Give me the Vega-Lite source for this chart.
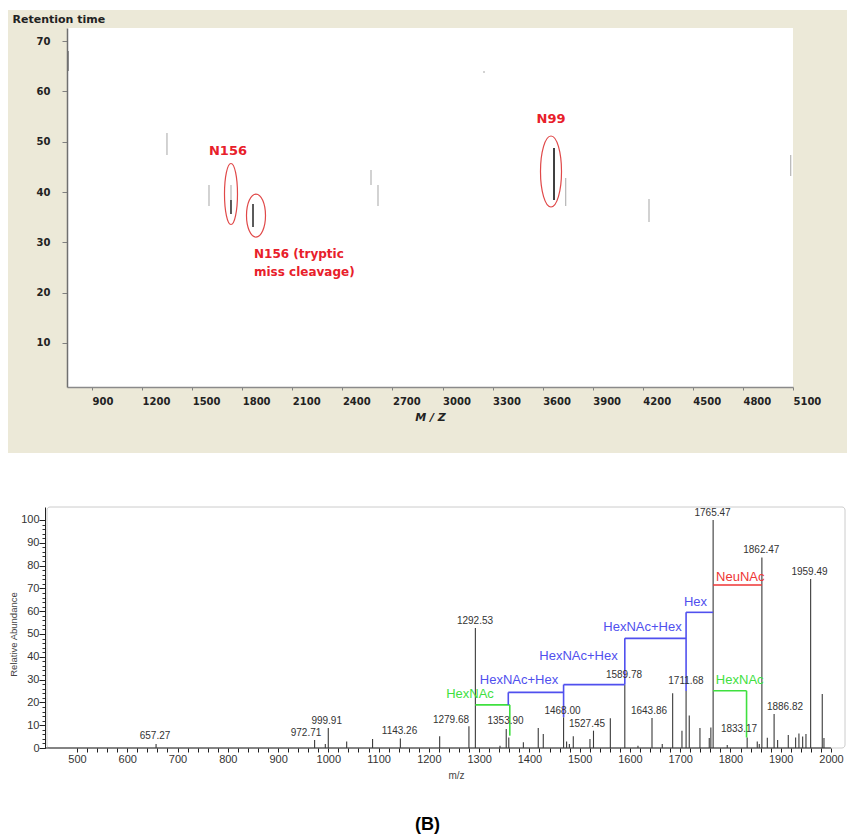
{
  "$schema": "https://vega.github.io/schema/vega-lite/v6.json",
  "padding": {"left": 8, "top": 9, "right": 0, "bottom": 0},
  "background": "white",
  "spacing": 52,
  "resolve": {"scale": {"color": "independent", "strokeWidth": "independent"}},
  "title": {"text": "(B)", "orient": "bottom", "anchor": "middle", "frame": "bounds", "fontSize": 18, "fontWeight": "bold", "font": "Liberation Sans", "color": "#000000", "offset": 36},
  "config": {"view": {"stroke": null}, "axis": {"zindex": 1, "grid": false}},
  "vconcat": [
    {
      "width": 726,
      "height": 359,
      "layer": [
        {
          "data": {"values": [{}]},
          "mark": {"type": "rect", "color": "#ECE9D8"},
          "encoding": {
            "x": {"datum": 396.5, "type": "quantitative", "scale": {"domain": [750, 5100], "nice": false, "zero": false}},
            "x2": {"datum": 5423.5},
            "y": {"datum": 76.18, "type": "quantitative", "scale": {"domain": [1.25, 72.6], "nice": false, "zero": false}},
            "y2": {"datum": -11.87}
          }
        },
        {
          "data": {"values": [{}]},
          "mark": {"type": "rect", "color": "#FFFFFF"},
          "encoding": {
            "x": {"datum": 750, "type": "quantitative", "scale": {"domain": [750, 5100], "nice": false, "zero": false}},
            "x2": {"datum": 5100},
            "y": {"datum": 1.25, "type": "quantitative", "scale": {"domain": [1.25, 72.6], "nice": false, "zero": false}},
            "y2": {"datum": 72.6}
          }
        },
        {
          "data": {"values": [
            {"mz": 757, "rt": 68.03, "rt2": 64.05, "level": "mid"},
            {"mz": 1349, "rt": 51.73, "rt2": 47.36, "level": "low"},
            {"mz": 1600.8, "rt": 41.4, "rt2": 37.22, "level": "low"},
            {"mz": 1732.6, "rt": 41.4, "rt2": 38.42, "level": "low"},
            {"mz": 1732.6, "rt": 38.42, "rt2": 35.63, "level": "high"},
            {"mz": 1864.5, "rt": 37.62, "rt2": 33.05, "level": "high"},
            {"mz": 2571.5, "rt": 44.38, "rt2": 41.4, "level": "low"},
            {"mz": 2613.4, "rt": 41.4, "rt2": 37.22, "level": "low"},
            {"mz": 3248.6, "rt": 64.05, "rt2": 63.65, "level": "low"},
            {"mz": 3668, "rt": 48.75, "rt2": 38.42, "level": "peak"},
            {"mz": 3738, "rt": 42.79, "rt2": 37.22, "level": "low"},
            {"mz": 4237.2, "rt": 38.61, "rt2": 34.04, "level": "low"},
            {"mz": 5086.2, "rt": 47.36, "rt2": 43.19, "level": "low"}
          ]},
          "mark": {"type": "rule"},
          "encoding": {
            "x": {"field": "mz", "type": "quantitative", "scale": {"domain": [750, 5100], "nice": false, "zero": false},
              "axis": {"zindex": 1, "values": [900, 1200, 1500, 1800, 2100, 2400, 2700, 3000, 3300, 3600, 3900, 4200, 4500, 4800, 5100], "format": "d",
                "title": "M / Z", "titleFont": "DejaVu Sans", "titleFontSize": 11, "titleFontWeight": "bold", "titleFontStyle": "italic", "titleColor": "#222222", "titlePadding": 5,
                "labelAlign": "left", "labelFont": "DejaVu Sans", "labelFontSize": 10, "labelFontWeight": "bold", "labelColor": "#222222", "labelPadding": 6, "labelFlush": false, "labelOverlap": false,
                "tickSize": 3, "tickColor": "#808080", "domainColor": "#8a8a8a", "domainWidth": 1.5}},
            "y": {"field": "rt", "type": "quantitative", "scale": {"domain": [1.25, 72.6], "nice": false, "zero": false},
              "axis": {"zindex": 1, "values": [10, 20, 30, 40, 50, 60, 70], "title": "Retention time", "titleAngle": 0, "titleX": -55, "titleY": -9, "titleAlign": "left", "titleBaseline": "middle",
                "titleFont": "DejaVu Sans", "titleFontSize": 11, "titleFontWeight": "bold", "titleColor": "#222222",
                "labelFont": "DejaVu Sans", "labelFontSize": 10, "labelFontWeight": "bold", "labelColor": "#222222", "labelPadding": 12, "labelFlush": false,
                "tickSize": 5, "tickColor": "#808080", "domainColor": "#707070", "domainWidth": 1.5}},
            "y2": {"field": "rt2"},
            "color": {"field": "level", "type": "nominal", "scale": {"domain": ["low", "mid", "high", "peak"], "range": ["#b5b5b5", "#7a7a7a", "#151515", "#000000"]}, "legend": null},
            "strokeWidth": {"field": "level", "type": "ordinal", "scale": {"domain": ["low", "mid", "high", "peak"], "range": [1.2, 1.5, 2.6, 4]}, "legend": null}
          }
        },
        {
          "data": {"values": [{"mz": 1732.6, "rt": 39.61}]},
          "mark": {"type": "point", "shape": "M -0.213 0 A 0.213 1 0 1 0 0.213 0 A 0.213 1 0 1 0 -0.213 0 Z", "size": 3721, "filled": false, "color": "#e04848", "strokeWidth": 1.2, "opacity": 1},
          "encoding": {
            "x": {"field": "mz", "type": "quantitative", "scale": {"domain": [750, 5100], "nice": false, "zero": false}},
            "y": {"field": "rt", "type": "quantitative", "scale": {"domain": [1.25, 72.6], "nice": false, "zero": false}}
          }
        },
        {
          "data": {"values": [{"mz": 1882.4, "rt": 35.33}]},
          "mark": {"type": "point", "shape": "M -0.442 0 A 0.442 1 0 1 0 0.442 0 A 0.442 1 0 1 0 -0.442 0 Z", "size": 1849, "filled": false, "color": "#e04848", "strokeWidth": 1.2, "opacity": 1},
          "encoding": {
            "x": {"field": "mz", "type": "quantitative", "scale": {"domain": [750, 5100], "nice": false, "zero": false}},
            "y": {"field": "rt", "type": "quantitative", "scale": {"domain": [1.25, 72.6], "nice": false, "zero": false}}
          }
        },
        {
          "data": {"values": [{"mz": 3650, "rt": 44.08}]},
          "mark": {"type": "point", "shape": "M -0.296 0 A 0.296 1 0 1 0 0.296 0 A 0.296 1 0 1 0 -0.296 0 Z", "size": 5041, "filled": false, "color": "#e04848", "strokeWidth": 1.2, "opacity": 1},
          "encoding": {
            "x": {"field": "mz", "type": "quantitative", "scale": {"domain": [750, 5100], "nice": false, "zero": false}},
            "y": {"field": "rt", "type": "quantitative", "scale": {"domain": [1.25, 72.6], "nice": false, "zero": false}}
          }
        },
        {
          "data": {"values": [{"label": "N156", "mz": 1714.7, "rt": 48.15}, {"label": "N99", "mz": 3650, "rt": 54.51}]},
          "mark": {"type": "text", "font": "DejaVu Sans", "fontSize": 13, "fontWeight": "bold", "color": "#e8202a", "align": "center", "baseline": "middle"},
          "encoding": {
            "x": {"field": "mz", "type": "quantitative", "scale": {"domain": [750, 5100], "nice": false, "zero": false}},
            "y": {"field": "rt", "type": "quantitative", "scale": {"domain": [1.25, 72.6], "nice": false, "zero": false}},
            "text": {"field": "label"}
          }
        },
        {
          "data": {"values": [{"label": "N156 (tryptic", "mz": 1870.5, "rt": 27.68}, {"label": "miss cleavage)", "mz": 1870.5, "rt": 24.1}]},
          "mark": {"type": "text", "font": "DejaVu Sans", "fontSize": 12, "fontWeight": "bold", "color": "#e8202a", "align": "left", "baseline": "middle"},
          "encoding": {
            "x": {"field": "mz", "type": "quantitative", "scale": {"domain": [750, 5100], "nice": false, "zero": false}},
            "y": {"field": "rt", "type": "quantitative", "scale": {"domain": [1.25, 72.6], "nice": false, "zero": false}},
            "text": {"field": "label"}
          }
        }
      ]
    },
    {
      "width": 778,
      "height": 241,
      "resolve": {"scale": {"x": "shared", "y": "shared"}, "axis": {"x": "independent", "y": "independent"}},
      "layer": [
        {
          "data": {"values": [{}]},
          "mark": {"type": "rect", "filled": false, "color": "#cccccc", "strokeWidth": 1, "cornerRadius": 3},
          "encoding": {
            "x": {"datum": 440.3, "type": "quantitative", "scale": {"domain": [480.11, 2027.85], "nice": false, "zero": false}, "axis": null},
            "x2": {"datum": 2027.85},
            "y": {"datum": 0, "type": "quantitative", "scale": {"domain": [0, 105.7], "nice": false, "zero": false},
              "axis": {"zindex": 1, "orient": "left", "offset": 22, "values": [0, 2, 4, 6, 8, 10, 12, 14, 16, 18, 20, 22, 24, 26, 28, 30, 32, 34, 36, 38, 40, 42, 44, 46, 48, 50, 52, 54, 56, 58, 60, 62, 64, 66, 68, 70, 72, 74, 76, 78, 80, 82, 84, 86, 88, 90, 92, 94, 96, 98, 100],
                "labels": false, "domain": false, "title": null, "tickSize": 3, "tickColor": "#333333", "tickWidth": 1}},
            "y2": {"datum": 105.7}
          }
        },
        {
          "data": {"values": [{}]},
          "mark": {"type": "rule", "color": "#222222", "strokeWidth": 1},
          "encoding": {
            "x": {"datum": 436.34, "type": "quantitative", "scale": {"domain": [480.11, 2027.85], "nice": false, "zero": false}, "axis": null},
            "x2": {"datum": 2000},
            "y": {"datum": 0, "type": "quantitative", "scale": {"domain": [0, 105.7], "nice": false, "zero": false}, "axis": null}
          }
        },
        {
          "data": {"values": [
            {"mz": 657.3, "ab": 1.8}, {"mz": 972.7, "ab": 3.5}, {"mz": 994, "ab": 1.8}, {"mz": 999.9, "ab": 8.8},
            {"mz": 1036.5, "ab": 2.9}, {"mz": 1088, "ab": 3.9}, {"mz": 1143.3, "ab": 4.2}, {"mz": 1221.5, "ab": 5.1},
            {"mz": 1279.7, "ab": 9.5}, {"mz": 1292.5, "ab": 52.6}, {"mz": 1341.5, "ab": 1.0}, {"mz": 1353.9, "ab": 8.3},
            {"mz": 1359, "ab": 4.6}, {"mz": 1388, "ab": 2.5}, {"mz": 1417.6, "ab": 8.8}, {"mz": 1427.6, "ab": 6.1},
            {"mz": 1468, "ab": 13.5}, {"mz": 1474, "ab": 2.8}, {"mz": 1479.5, "ab": 1.7}, {"mz": 1487.3, "ab": 5.1},
            {"mz": 1520.5, "ab": 3.9}, {"mz": 1527.5, "ab": 7.6}, {"mz": 1561, "ab": 13}, {"mz": 1589.8, "ab": 28},
            {"mz": 1616, "ab": 1.0}, {"mz": 1643.9, "ab": 13.2}, {"mz": 1664.3, "ab": 1.7}, {"mz": 1685, "ab": 24},
            {"mz": 1703.5, "ab": 7.6}, {"mz": 1711.7, "ab": 25}, {"mz": 1718, "ab": 14.2}, {"mz": 1739.3, "ab": 8.8},
            {"mz": 1757.8, "ab": 4.4}, {"mz": 1761, "ab": 9}, {"mz": 1765.5, "ab": 100}, {"mz": 1793.6, "ab": 1.3},
            {"mz": 1833.2, "ab": 4.6}, {"mz": 1853.3, "ab": 2.8}, {"mz": 1857.3, "ab": 1.8}, {"mz": 1862.5, "ab": 83.6},
            {"mz": 1873.3, "ab": 4.5}, {"mz": 1886.8, "ab": 14.9}, {"mz": 1893.8, "ab": 3.5}, {"mz": 1915, "ab": 5.7},
            {"mz": 1929.6, "ab": 4.6}, {"mz": 1936.2, "ab": 6.4}, {"mz": 1943.6, "ab": 5}, {"mz": 1950.2, "ab": 6.1},
            {"mz": 1959.5, "ab": 74.1}, {"mz": 1982.6, "ab": 23.7}, {"mz": 1986, "ab": 4.4}
          ]},
          "mark": {"type": "rule", "color": "#3a3a3a", "strokeWidth": 1.1},
          "encoding": {
            "x": {"field": "mz", "type": "quantitative", "scale": {"domain": [480.11, 2027.85], "nice": false, "zero": false},
              "axis": {"zindex": 1, "orient": "bottom", "values": [440, 460, 480, 500, 520, 540, 560, 580, 600, 620, 640, 660, 680, 700, 720, 740, 760, 780, 800, 820, 840, 860, 880, 900, 920, 940, 960, 980, 1000, 1020, 1040, 1060, 1080, 1100, 1120, 1140, 1160, 1180, 1200, 1220, 1240, 1260, 1280, 1300, 1320, 1340, 1360, 1380, 1400, 1420, 1440, 1460, 1480, 1500, 1520, 1540, 1560, 1580, 1600, 1620, 1640, 1660, 1680, 1700, 1720, 1740, 1760, 1780, 1800, 1820, 1840, 1860, 1880, 1900, 1920, 1940, 1960, 1980, 2000],
                "labelExpr": "datum.value % 100 === 0 ? '' + datum.value : ''", "domain": false,
                "title": "m/z", "titleFont": "Liberation Sans", "titleFontSize": 10, "titleFontWeight": "normal", "titleColor": "#444444", "titlePadding": 6,
                "labelFont": "Liberation Sans", "labelFontSize": 11, "labelColor": "#333333", "labelPadding": 1, "labelFlush": false, "labelOverlap": false, "labelBound": false,
                "tickSize": 4, "tickColor": "#222222", "tickWidth": 1}},
            "y": {"field": "ab", "type": "quantitative", "scale": {"domain": [0, 105.7], "nice": false, "zero": false},
              "axis": {"zindex": 1, "orient": "left", "offset": 22, "values": [0, 10, 20, 30, 40, 50, 60, 70, 80, 90, 100],
                "title": "Relative Abundance", "titleFont": "Liberation Sans", "titleFontSize": 9.5, "titleFontWeight": "normal", "titleColor": "#444444", "titlePadding": 2, "titleY": 127,
                "labelFont": "Liberation Sans", "labelFontSize": 11, "labelColor": "#333333", "labelPadding": 0, "labelFlush": false,
                "tickSize": 6, "tickColor": "#222222", "tickWidth": 1, "domainColor": "#222222", "domainWidth": 1}},
            "y2": {"datum": 0}
          }
        },
        {
          "data": {"values": [
            {"residue": "HexNAc", "mz": 1292.5, "mz2": 1361, "ab": 18.9, "ab2": 18.9},
            {"residue": "HexNAc", "mz": 1361, "mz2": 1361, "ab": 18.9, "ab2": 5.4},
            {"residue": "HexNAc+Hex", "mz": 1358, "mz2": 1468, "ab": 24.4, "ab2": 24.4},
            {"residue": "HexNAc+Hex", "mz": 1358, "mz2": 1358, "ab": 24.4, "ab2": 18.9},
            {"residue": "HexNAc+Hex", "mz": 1468, "mz2": 1589.8, "ab": 27.8, "ab2": 27.8},
            {"residue": "HexNAc+Hex", "mz": 1468, "mz2": 1468, "ab": 27.8, "ab2": 13.5},
            {"residue": "HexNAc+Hex", "mz": 1589.8, "mz2": 1711.7, "ab": 48.1, "ab2": 48.1},
            {"residue": "HexNAc+Hex", "mz": 1589.8, "mz2": 1589.8, "ab": 48.1, "ab2": 28},
            {"residue": "Hex", "mz": 1711.7, "mz2": 1765.5, "ab": 59.5, "ab2": 59.5},
            {"residue": "Hex", "mz": 1711.7, "mz2": 1711.7, "ab": 59.5, "ab2": 25},
            {"residue": "NeuNAc", "mz": 1765.5, "mz2": 1862.5, "ab": 71.5, "ab2": 71.5},
            {"residue": "HexNAc", "mz": 1765.5, "mz2": 1832, "ab": 25.1, "ab2": 25.1},
            {"residue": "HexNAc", "mz": 1832, "mz2": 1832, "ab": 25.1, "ab2": 4.6}
          ]},
          "mark": {"type": "rule", "strokeWidth": 1.6},
          "encoding": {
            "x": {"field": "mz", "type": "quantitative", "scale": {"domain": [480.11, 2027.85], "nice": false, "zero": false}, "axis": null},
            "x2": {"field": "mz2"},
            "y": {"field": "ab", "type": "quantitative", "scale": {"domain": [0, 105.7], "nice": false, "zero": false}, "axis": null},
            "y2": {"field": "ab2"},
            "color": {"field": "residue", "type": "nominal", "scale": {"domain": ["HexNAc", "HexNAc+Hex", "Hex", "NeuNAc"], "range": ["#3fe03f", "#5050ee", "#5050ee", "#ee3535"]}, "legend": null}
          }
        },
        {
          "data": {"values": [
            {"residue": "HexNAc", "mz": 1281.8, "ab": 23.8},
            {"residue": "HexNAc+Hex", "mz": 1379.3, "ab": 29.8},
            {"residue": "HexNAc+Hex", "mz": 1497.7, "ab": 40.2},
            {"residue": "HexNAc+Hex", "mz": 1625, "ab": 52.9},
            {"residue": "Hex", "mz": 1730.4, "ab": 63.9},
            {"residue": "NeuNAc", "mz": 1819.6, "ab": 74.8},
            {"residue": "HexNAc", "mz": 1818.4, "ab": 30}
          ]},
          "mark": {"type": "text", "font": "Liberation Sans", "fontSize": 13, "align": "center", "baseline": "middle"},
          "encoding": {
            "x": {"field": "mz", "type": "quantitative", "scale": {"domain": [480.11, 2027.85], "nice": false, "zero": false}, "axis": null},
            "y": {"field": "ab", "type": "quantitative", "scale": {"domain": [0, 105.7], "nice": false, "zero": false}, "axis": null},
            "text": {"field": "residue"},
            "color": {"field": "residue", "type": "nominal", "scale": {"domain": ["HexNAc", "HexNAc+Hex", "Hex", "NeuNAc"], "range": ["#3fe03f", "#5050ee", "#5050ee", "#ee3535"]}, "legend": null}
          }
        },
        {
          "data": {"values": [
            {"label": "657.27", "mz": 655.2, "ab": 5.1},
            {"label": "972.71", "mz": 955.6, "ab": 6.4},
            {"label": "999.91", "mz": 996.7, "ab": 12.0},
            {"label": "1143.26", "mz": 1141.6, "ab": 7.3},
            {"label": "1279.68", "mz": 1244, "ab": 12.3},
            {"label": "1292.53", "mz": 1291.8, "ab": 55.8},
            {"label": "1353.90", "mz": 1352.5, "ab": 11.7},
            {"label": "1468.00", "mz": 1465.8, "ab": 16.4},
            {"label": "1527.45", "mz": 1514.6, "ab": 10.5},
            {"label": "1589.78", "mz": 1588.2, "ab": 32},
            {"label": "1643.86", "mz": 1637.9, "ab": 16.1},
            {"label": "1711.68", "mz": 1711.5, "ab": 29.5},
            {"label": "1765.47", "mz": 1764.3, "ab": 103.1},
            {"label": "1862.47", "mz": 1861.3, "ab": 87},
            {"label": "1959.49", "mz": 1957.2, "ab": 77},
            {"label": "1833.17", "mz": 1817, "ab": 8.3},
            {"label": "1886.82", "mz": 1908.5, "ab": 18.2}
          ]},
          "mark": {"type": "text", "font": "Liberation Sans", "fontSize": 10, "color": "#333333", "align": "center", "baseline": "middle"},
          "encoding": {
            "x": {"field": "mz", "type": "quantitative", "scale": {"domain": [480.11, 2027.85], "nice": false, "zero": false}, "axis": null},
            "y": {"field": "ab", "type": "quantitative", "scale": {"domain": [0, 105.7], "nice": false, "zero": false}, "axis": null},
            "text": {"field": "label"}
          }
        }
      ]
    }
  ]
}
